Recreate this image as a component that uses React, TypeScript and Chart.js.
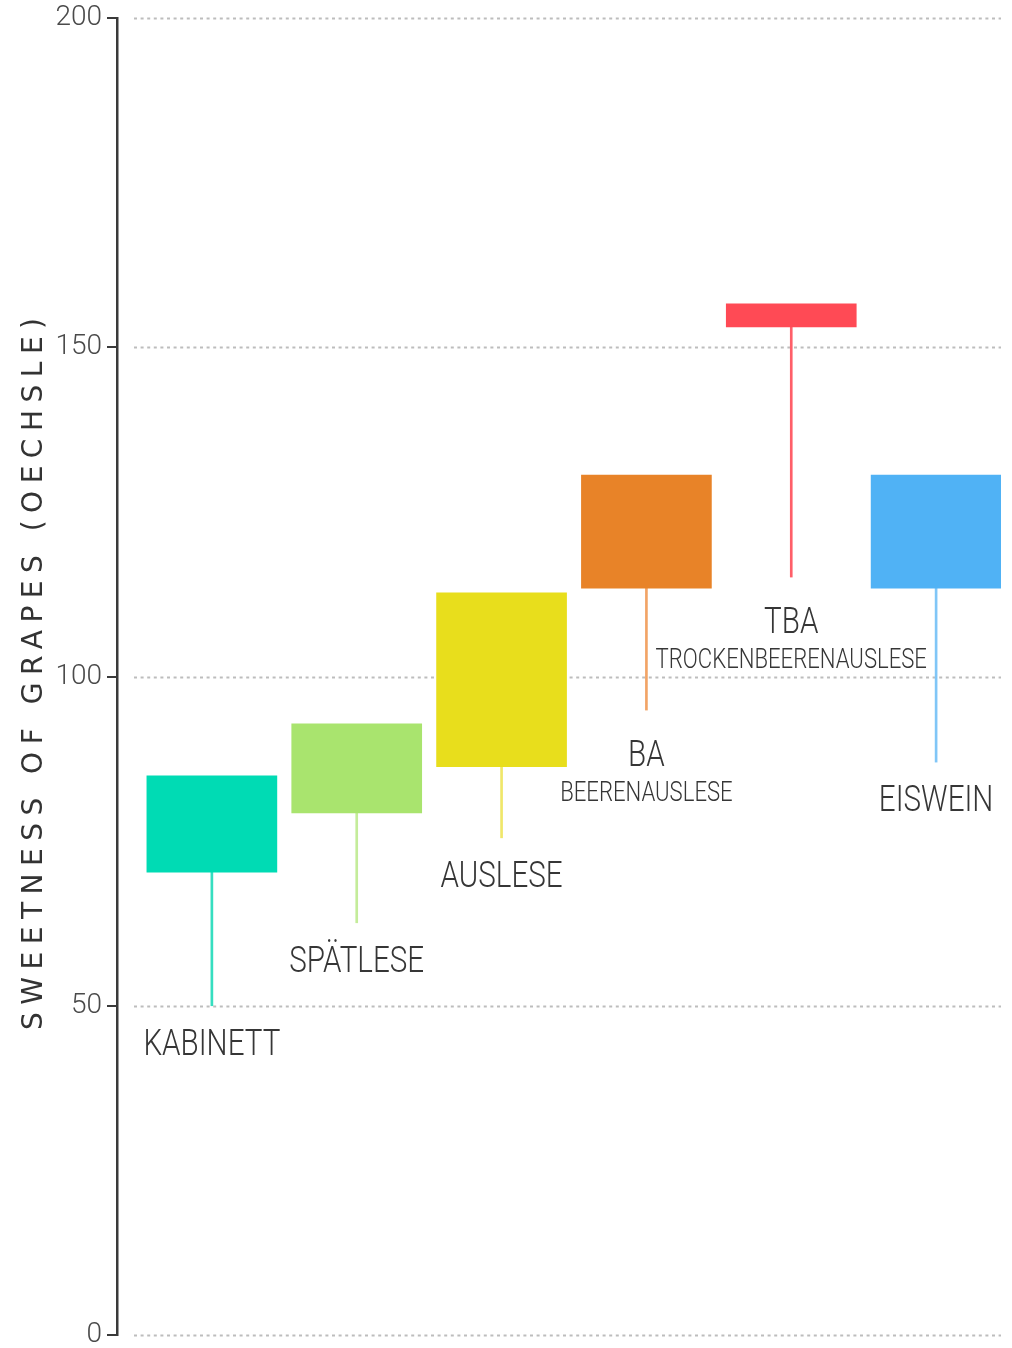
import React, { useEffect, useRef } from "react";
import { Chart, registerables } from "chart.js";

Chart.register(...registerables);

// ---- data ----
const categories = ["KABINETT", "SPÄTLESE", "AUSLESE", "BA", "TBA", "EISWEIN"];
const subtitles = ["", "", "", "BEERENAUSLESE", "TROCKENBEERENAUSLESE", ""];
const rangeLow = [70.3, 79.3, 86.3, 113.4, 153.1, 113.4];
const rangeHigh = [84.9, 92.8, 112.7, 130.6, 156.6, 130.6];
const stemLow = [50, 62.6, 75.5, 94.9, 115.1, 87];
const yTickValues = [0, 50, 100, 150, 200];
const yTitle = "SWEETNESS OF GRAPES (OECHSLE)";

// ---- styles ----
const boxColors = ["#00DBB4", "#A9E46E", "#E8DE1C", "#E88328", "#FF4A55", "#50B2F5"];
const stemColors = ["#35DEC0", "#C4EC9A", "#F0E76A", "#F2A466", "#FF5F69", "#80C6F7"];
const LABEL_FONT = "Roboto, 'Liberation Sans', sans-serif";
const TICK_FONT = "Roboto, 'Liberation Sans', sans-serif";

const W = 1012;
const H = 1348;

export default function App() {
  const ref = useRef<HTMLCanvasElement | null>(null);

  useEffect(() => {
    const canvas = ref.current;
    if (!canvas) return;

    const gridPlugin = {
      id: "dottedGrid",
      beforeDatasetsDraw(chart: any) {
        const { ctx, chartArea, scales } = chart;
        const y = scales.y;
        ctx.save();
        ctx.strokeStyle = "#BDBDBD";
        ctx.lineWidth = 2;
        ctx.setLineDash([3, 3.6]);
        yTickValues.forEach((v) => {
          const py = Math.round(y.getPixelForValue(v)) + 0.5;
          ctx.beginPath();
          ctx.moveTo(chartArea.left + 17, py);
          ctx.lineTo(chartArea.right, py);
          ctx.stroke();
        });
        ctx.restore();
      },
    };

    const labelPlugin = {
      id: "catLabels",
      afterDatasetsDraw(chart: any) {
        const { ctx, scales } = chart;
        const xs = scales.x;
        const ys = scales.y;
        ctx.save();
        ctx.fillStyle = "#363636";
        ctx.textAlign = "center";
        ctx.textBaseline = "alphabetic";
        categories.forEach((name, i) => {
          const px = xs.getPixelForValue(i);
          const stemEnd = ys.getPixelForValue(stemLow[i]);
          const hasSub = subtitles[i] !== "";
          const base = stemEnd + 49 + (hasSub ? 7 : 0);
          ctx.save();
          ctx.translate(px, base);
          ctx.scale(0.8, 1);
          ctx.font = `300 37px ${LABEL_FONT}`;
          ctx.fillText(name, 0, 0);
          ctx.restore();
          if (hasSub) {
            ctx.save();
            ctx.translate(px, base + 35);
            ctx.scale(0.79, 1);
            ctx.font = `300 28px ${LABEL_FONT}`;
            ctx.fillText(subtitles[i], 0, 0);
            ctx.restore();
          }
        });
        ctx.restore();

        // y axis title with wide letter spacing
        ctx.save();
        ctx.fillStyle = "#333333";
        ctx.font = "28px 'DejaVu Sans', sans-serif";
        (ctx as any).letterSpacing = "0px";
        const w0 = ctx.measureText(yTitle).width;
        const target = 712;
        const n = yTitle.length;
        const sp = (target - w0) / (n - 1);
        (ctx as any).letterSpacing = `${sp}px`;
        ctx.translate(35, 674);
        ctx.rotate(-Math.PI / 2);
        ctx.textAlign = "left";
        ctx.textBaseline = "middle";
        ctx.fillText(yTitle, -target / 2, 0);
        ctx.restore();
      },
    };

    const chart = new Chart(canvas, {
      type: "bar",
      data: {
        datasets: [
          {
            label: "range",
            data: categories.map((_, i) => ({ x: i, y: [rangeLow[i], rangeHigh[i]] })) as any,
            backgroundColor: boxColors,
            borderWidth: 0,
            barThickness: 130,
            grouped: false,
            order: 1,
          } as any,
          {
            label: "stem",
            data: categories.map((_, i) => ({ x: i, y: [stemLow[i], rangeLow[i]] })) as any,
            backgroundColor: stemColors,
            borderWidth: 0,
            barThickness: 2,
            grouped: false,
            order: 2,
          } as any,
        ],
      },
      options: {
        responsive: false,
        animation: false,
        devicePixelRatio: 1,
        layout: { padding: { left: 0, right: 11, top: 18, bottom: 13 } },
        plugins: {
          legend: { display: false },
          tooltip: { enabled: false },
          title: { display: false },
        },
        scales: {
          x: {
            type: "linear",
            display: false,
            min: -0.655,
            max: 5.448,
            offset: false,
          },
          y: {
            min: 0,
            max: 200,
            afterFit(scale: any) {
              scale.width = 117;
              scale.paddingTop = 0;
              scale.paddingBottom = 0;
            },
            ticks: {
              stepSize: 50,
              color: "#4A4A4A",
              padding: 5,
              font: { family: TICK_FONT, size: 28, weight: "300" as any },
            },
            grid: {
              drawOnChartArea: false,
              drawTicks: true,
              tickLength: 10,
              color: "#3A3A3A",
              lineWidth: 2,
            },
            border: { display: true, color: "#3A3A3A", width: 2.5 },
          },
        },
      },
      plugins: [gridPlugin, labelPlugin],
    });

    return () => chart.destroy();
  }, []);

  return (
    <div style={{ position: "absolute", left: 0, top: 0, width: W, height: H, background: "#fff" }}>
      <canvas ref={ref} width={W} height={H} style={{ display: "block" }} />
    </div>
  );
}
